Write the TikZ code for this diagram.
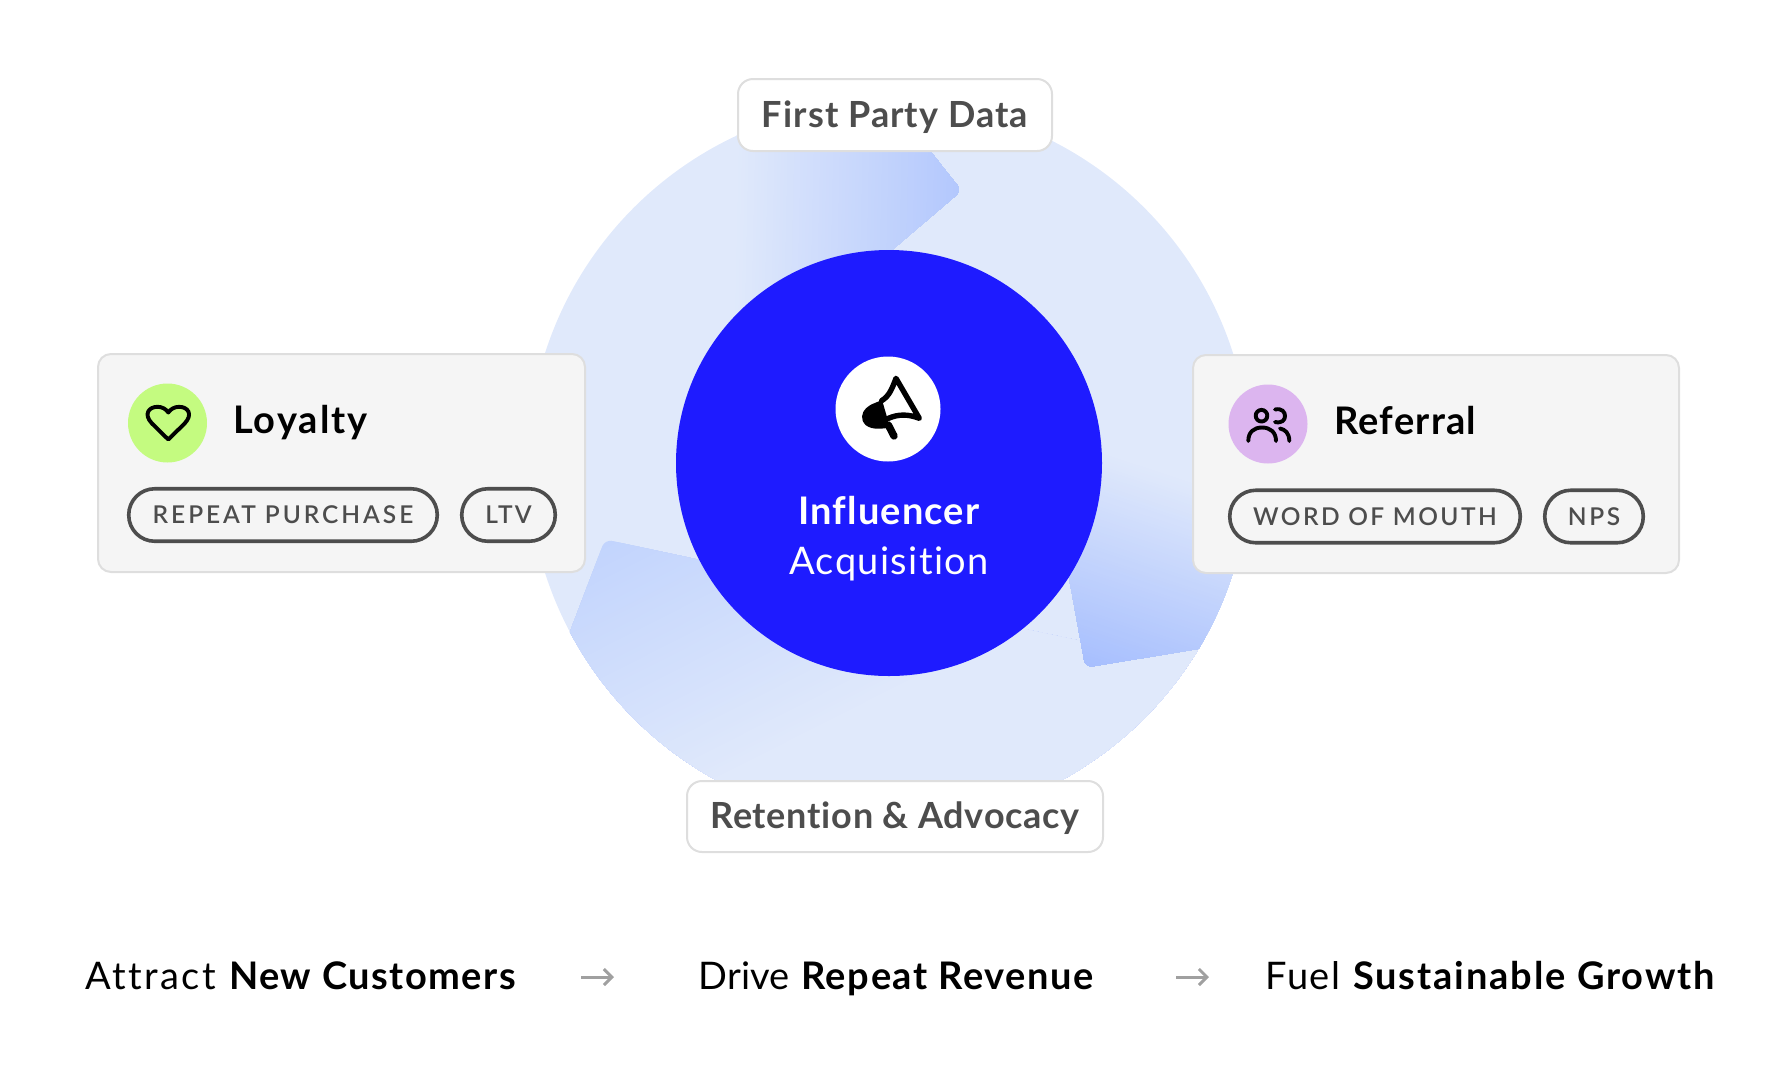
\documentclass[tikz,border=0pt]{standalone}
\usepackage{fontspec}
\setmainfont[Ligatures=NoCommon]{Lato}
\newfontfamily\tagfont[Ligatures=NoCommon]{Lato Semibold}
\newcommand{\lsp}[1]{\addfontfeature{LetterSpace=#1}}
\usetikzlibrary{calc,arrows.meta}
\definecolor{ringc}{HTML}{E0E9FB}
\definecolor{brand}{HTML}{1E1BFF}
\definecolor{cardf}{HTML}{F5F5F5}
\definecolor{cardb}{HTML}{DEDEDE}
\definecolor{ink}{HTML}{4D4D4D}
\definecolor{limec}{HTML}{C4FB80}
\definecolor{lilac}{HTML}{DCB5EF}
\definecolor{arrowg}{HTML}{A0A0A0}
\definecolor{topend}{HTML}{B2C7FD}
\definecolor{leftend}{HTML}{C2D4FD}
\definecolor{rightend}{HTML}{A6BEFE}
% gradient painted as overlapping half planes from A (ax,ay) to B (bx,by)
\newcommand{\gradband}[6]{%
  \foreach \i in {0,...,70}{%
    \pgfmathsetmacro{\tt}{\i/70}%
    \pgfmathsetmacro{\pct}{\tt*100}%
    \pgfmathsetmacro{\vx}{(#3-#1)}%
    \pgfmathsetmacro{\vy}{(#4-#2)}%
    \pgfmathsetmacro{\px}{#1+\vx*\tt}%
    \pgfmathsetmacro{\py}{#2+\vy*\tt}%
    \fill[color=#6!\pct!#5]
      (\px-6*\vy,\py+6*\vx) -- (\px+6*\vy,\py-6*\vx)
      -- (\px+6*\vy+4*\vx,\py-6*\vx+4*\vy) -- (\px-6*\vy+4*\vx,\py+6*\vx+4*\vy) -- cycle;
  }%
}
\tikzset{
  card/.style={draw=cardb,fill=cardf,line width=2pt,rounded corners=13pt,inner sep=0pt},
  badge/.style={circle,inner sep=0pt},
  pill/.style={draw=ink,line width=3.6pt,fill=cardf,inner sep=0pt,text=ink,minimum height=52.5pt,rounded corners=26pt},
  flag/.style={draw=cardb,fill=white,line width=2pt,rounded corners=15pt,inner sep=0pt,
    text=ink,text height=25pt,text depth=1pt},
  heading/.style={anchor=base west,inner sep=0pt,text=black},
  strapa/.style={anchor=base west,inner sep=0pt,text=black},
  icon/.style={line width=3.9pt,line cap=round,line join=round,draw=black},
  flow/.style={draw=arrowg,line width=3pt,-{Straight Barb[length=8pt,width=16pt,line width=3pt]}}
}
\begin{document}
\begin{tikzpicture}[x=1pt,y=-1pt]
\useasboundingbox (0,0) rectangle (1790,1088);
% ring
\fill[ringc] (889,463) circle (361);
% three arrow bands
\begin{scope}
  \clip (889,463) circle (361);
  \clip[rounded corners=7pt] (878,85) -- (961.5,190.7) -- (858,279) -- (600,400) -- (600,85) -- cycle;
  \gradband{735}{190}{963}{195}{ringc}{topend}
\end{scope}
\begin{scope}
  \clip (889,463) circle (361);
  \clip[rounded corners=7pt] (605,539.5) -- (889,600.7) -- (1100,645) -- (1300,645) -- (1300,900) -- (500,900) -- (510,790) -- cycle;
  \gradband{605}{540}{725}{777}{leftend}{ringc}
\end{scope}
\begin{scope}
  \clip (889,463) circle (361);
  \clip[rounded corners=7pt] (1085.5,667.5) -- (1300,632) -- (1300,420) -- (1040,420) -- cycle;
  \gradband{1100}{450}{1034}{651}{ringc}{rightend}
\end{scope}
% hub
\node[circle,fill=brand,minimum size=426pt,inner sep=0pt] (hub) at (889,463) {};
\node[badge,fill=white,minimum size=105pt] (horn) at (888,409) {};
\node[anchor=base,inner sep=0pt,text=white,font=\fontsize{38}{44}\selectfont\bfseries\lsp{3}] (inf) at (889,524.5) {Influencer};
\node[anchor=base,inner sep=0pt,text=white,font=\fontsize{38}{44}\selectfont\lsp{3.6}] (acq) at (889,574.5) {Acquisition};
% megaphone
\begin{scope}[shift={(820,340)},scale=1/3]
  \draw[line width=5.4pt,line join=round,line cap=round] (185,182) .. controls (210,167) and (218,140) .. (228,115) -- (298,235) .. controls (265,222) and (235,222) .. (205,235);
  \fill (155,193) .. controls (130,206) and (122,225) .. (128,242) .. controls (136,264) and (165,272) .. (210,262) -- (186,180) -- cycle;
  \draw[line width=7.4pt,line cap=round] (205,255) -- (222,288);
\end{scope}
% flags
\node[flag,minimum width=314pt,minimum height=72pt,font=\fontsize{36}{40}\selectfont\bfseries\lsp{3}] (fpd) at (895,115) {First Party Data};
\node[flag,minimum width=416pt,minimum height=71pt,font=\fontsize{36}{40}\selectfont\bfseries\lsp{2}] (ret) at (895,816.5) {Retention \& Advocacy};
% left card
\node[card,minimum width=487pt,minimum height=218pt] (loy) at (341.5,463) {};
\node[badge,fill=limec,minimum size=79pt] (loyb) at (167.5,423) {};
\node[heading,font=\fontsize{38}{44}\selectfont\bfseries\lsp{5.3}] (loyt) at (233,433) {Loyalty};
\node[pill,minimum width=308.5pt,font=\tagfont\fontsize{24.5}{28}\selectfont\lsp{12}] (rp) at (283,515) {REPEAT PURCHASE};
\node[pill,minimum width=93.5pt,font=\tagfont\fontsize{24.5}{28}\selectfont\lsp{9}] (ltv) at (508.5,515) {LTV};
\draw[icon] (168.3,439.5) -- (152,423.5) .. controls (143,414) and (149,406.8) .. (157.5,406.8) .. controls (162,406.8) and (166,409) .. (168.3,412.5) .. controls (170.6,409) and (174.6,406.8) .. (179.1,406.8) .. controls (187.6,406.8) and (193.6,414) .. (184.6,423.5) -- cycle;
% right card
\node[card,minimum width=486pt,minimum height=218pt] (ref) at (1436,464) {};
\node[badge,fill=lilac,minimum size=79pt] (refb) at (1268,424) {};
\node[heading,font=\fontsize{38}{44}\selectfont\bfseries\lsp{3.3}] (reft) at (1334,434) {Referral};
\node[pill,minimum width=290.5pt,font=\tagfont\fontsize{24.5}{28}\selectfont\lsp{10}] (wom) at (1375,516.5) {WORD OF MOUTH};
\node[pill,minimum width=98.5pt,font=\tagfont\fontsize{24.5}{28}\selectfont\lsp{11}] (nps) at (1594,516.5) {NPS};
\draw[icon] (1261.5,415.7) circle (5.8);
\draw[icon] (1275,409.5) .. controls (1282,408) and (1285,412) .. (1285,416) .. controls (1285,420) and (1282,423.5) .. (1275,422);
\draw[icon] (1248.3,441) .. controls (1248.3,432) and (1254,427.5) .. (1262,427.5) .. controls (1270,427.5) and (1276,432) .. (1276,441);
\draw[icon] (1280,428.5) .. controls (1285,429.5) and (1289.3,433) .. (1289.3,441);
% strapline
\node[strapa,font=\fontsize{38}{44}\selectfont\lsp{6.5}] (s1a) at (85,989) {Attract};
\node[strapa,font=\fontsize{38}{44}\selectfont\bfseries\lsp{3.9}] (s1b) at (229,989) {New Customers};
\node[strapa,font=\fontsize{38}{44}\selectfont\lsp{0.8}] (s2a) at (698,989) {Drive};
\node[strapa,font=\fontsize{38}{44}\selectfont\bfseries\lsp{4.2}] (s2b) at (801,989) {Repeat Revenue};
\node[strapa,font=\fontsize{38}{44}\selectfont\lsp{4.6}] (s3a) at (1265,989) {Fuel};
\node[strapa,font=\fontsize{38}{44}\selectfont\bfseries\lsp{5}] (s3b) at (1353,989) {Sustainable Growth};
\coordinate (a1s) at (581,977); \coordinate (a1e) at (614,977);
\coordinate (a2s) at (1176,977); \coordinate (a2e) at (1209,977);
\draw[flow] (a1s) -- (a1e);
\draw[flow] (a2s) -- (a2e);
\end{tikzpicture}
\end{document}
